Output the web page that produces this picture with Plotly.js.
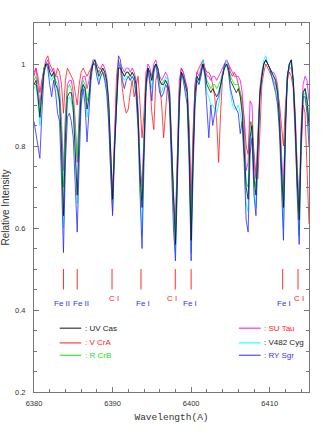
<!DOCTYPE html>
<html>
<head>
<meta charset="utf-8">
<script src="https://cdn.plot.ly/plotly-3.0.1.min.js"></script>
<style>
  html,body{margin:0;padding:0;background:#fff;}
  #chart{width:327px;height:436px;}
</style>
</head>
<body>
<div id="chart"></div>
<script>
// spectra sampled every 0.25 A starting at 6380 A (fed to plotly as x0/dx)
const waveStart = 6380;
const waveStep = 0.25;

const uvCas = [
  0.95,0.96,0.92,0.87, 0.93,0.98,1.00,1.00, 0.98,0.97,0.98,0.95, 0.94,0.91,0.80,0.63,
  0.82,0.92,0.93,0.93, 0.89,0.80,0.68,0.83, 0.93,0.95,0.94,0.89, 0.92,0.98,1.00,1.01,
  0.99,0.97,0.98,0.99, 0.98,0.96,0.91,0.78, 0.67,0.80,0.91,0.99, 0.99,0.98,0.97,0.98,
  0.98,0.97,0.98,0.97, 0.95,0.87,0.73,0.65, 0.82,0.95,0.99,0.98, 0.96,0.99,1.00,0.99,
  0.96,0.95,0.95,0.96, 0.95,0.93,0.80,0.66, 0.56,0.74,0.92,0.98, 0.97,0.95,0.93,0.80,
  0.57,0.78,0.93,0.97, 0.96,0.98,1.00,0.98, 0.95,0.94,0.93,0.94, 0.93,0.92,0.93,0.95,
  0.97,0.99,1.00,0.99, 0.96,0.95,0.94,0.93, 0.94,0.92,0.88,0.80, 0.70,0.67,0.82,0.85,
  0.72,0.68,0.82,0.93, 0.97,1.00,1.01,1.00, 0.99,0.98,0.97,0.96, 0.93,0.86,0.74,0.65,
  0.85,0.97,1.00,1.01, 0.96,0.86,0.72,0.62, 0.82,0.93,0.94,0.91, 0.85
];
const vCrA = [
  0.97,0.99,0.97,0.93, 0.96,0.99,1.01,1.02, 1.00,0.99,0.98,0.97, 0.99,0.98,0.95,0.88,
  0.96,0.99,0.98,0.97, 0.96,0.93,0.90,0.95, 0.98,0.99,0.98,0.97, 0.98,0.99,1.00,1.00,
  0.99,0.98,0.99,0.98, 0.97,0.95,0.88,0.74, 0.64,0.82,0.97,1.01, 0.99,0.94,0.90,0.88,
  0.89,0.93,0.96,0.92, 0.95,0.97,0.90,0.82, 0.88,0.98,0.99,0.95, 0.88,0.84,0.96,0.98,
  0.95,0.90,0.82,0.88, 0.95,0.92,0.78,0.66, 0.61,0.80,0.96,0.99, 0.98,0.96,0.94,0.85,
  0.66,0.84,0.95,0.98, 0.99,1.00,1.01,0.99, 0.98,0.98,0.97,0.95, 0.92,0.86,0.76,0.88,
  0.97,1.00,1.01,1.00, 0.98,0.97,0.98,0.97, 0.95,0.93,0.91,0.87, 0.80,0.78,0.86,0.84,
  0.78,0.73,0.72,0.85, 0.95,0.98,1.00,0.99, 0.98,0.97,0.96,0.95, 0.93,0.90,0.85,0.80,
  0.90,0.96,0.98,0.97, 0.94,0.82,0.70,0.66, 0.80,0.90,0.88,0.75, 0.61
];
const rCrB = [
  0.96,0.97,0.93,0.88, 0.93,0.99,1.00,1.00, 0.98,0.97,0.98,0.96, 0.95,0.92,0.84,0.70,
  0.86,0.94,0.95,0.94, 0.91,0.85,0.77,0.86, 0.94,0.96,0.95,0.91, 0.93,0.98,1.00,1.01,
  0.99,0.98,0.98,0.99, 0.98,0.96,0.90,0.77, 0.66,0.80,0.91,0.99, 0.99,0.98,0.97,0.98,
  0.98,0.97,0.98,0.97, 0.95,0.87,0.74,0.67, 0.83,0.95,0.99,0.98, 0.96,0.99,1.00,0.99,
  0.96,0.95,0.96,0.96, 0.95,0.93,0.80,0.67, 0.58,0.75,0.92,0.98, 0.97,0.95,0.93,0.81,
  0.60,0.79,0.93,0.97, 0.96,0.98,1.00,0.98, 0.96,0.95,0.94,0.95, 0.95,0.94,0.95,0.96,
  0.98,0.99,1.00,0.99, 0.97,0.96,0.95,0.95, 0.95,0.93,0.89,0.81, 0.71,0.70,0.84,0.86,
  0.73,0.70,0.83,0.93, 0.97,1.00,1.01,1.00, 0.99,0.98,0.97,0.96, 0.94,0.87,0.75,0.67,
  0.86,0.97,1.00,1.00, 0.96,0.86,0.73,0.64, 0.83,0.93,0.94,0.92, 0.86
];
const suTau = [
  0.98,0.99,0.95,0.90, 0.95,0.99,1.00,1.01, 0.99,0.98,0.99,0.97, 0.97,0.94,0.86,0.74,
  0.88,0.95,0.96,0.96, 0.93,0.86,0.76,0.88, 0.95,0.97,0.97,0.94, 0.96,0.99,1.01,1.01,
  1.00,0.99,0.99,1.00, 0.99,0.97,0.91,0.78, 0.68,0.82,0.93,0.99, 1.00,0.99,0.98,0.99,
  0.99,0.98,0.99,0.98, 0.96,0.89,0.76,0.70, 0.84,0.96,1.00,0.99, 0.97,1.00,1.01,0.99,
  0.97,0.96,0.97,0.98, 0.97,0.94,0.82,0.68, 0.60,0.78,0.94,0.99, 0.98,0.96,0.94,0.83,
  0.64,0.82,0.95,0.98, 0.97,0.99,1.01,0.99, 0.97,0.97,0.96,0.97, 0.97,0.96,0.97,0.98,
  0.99,1.00,1.01,1.00, 0.99,0.98,0.97,0.97, 0.97,0.96,0.93,0.85, 0.74,0.76,0.91,0.90,
  0.76,0.72,0.84,0.94, 0.98,1.00,1.01,1.00, 0.99,0.98,0.98,0.97, 0.95,0.89,0.78,0.70,
  0.87,0.97,0.99,0.99, 0.96,0.88,0.75,0.66, 0.85,0.95,0.97,0.96, 0.91
];
const v482Cyg = [
  0.94,0.95,0.91,0.85, 0.92,0.98,1.00,1.00, 0.97,0.96,0.97,0.95, 0.93,0.90,0.78,0.60,
  0.80,0.91,0.92,0.91, 0.88,0.79,0.66,0.82, 0.92,0.95,0.93,0.87, 0.91,0.97,1.00,1.01,
  0.99,0.96,0.97,0.98, 0.97,0.95,0.89,0.76, 0.65,0.79,0.91,1.00, 1.00,0.97,0.96,0.97,
  0.97,0.96,0.97,0.96, 0.93,0.85,0.70,0.58, 0.80,0.94,0.99,0.97, 0.94,0.98,1.00,0.98,
  0.94,0.93,0.95,0.97, 0.96,0.92,0.77,0.63, 0.54,0.72,0.91,0.98, 0.97,0.94,0.92,0.77,
  0.54,0.76,0.92,0.97, 0.95,0.98,1.01,0.98, 0.93,0.92,0.90,0.90, 0.89,0.88,0.90,0.94,
  0.97,1.00,1.01,0.99, 0.93,0.90,0.89,0.89, 0.90,0.88,0.85,0.78, 0.66,0.64,0.80,0.84,
  0.70,0.65,0.81,0.93, 0.98,1.01,1.02,1.00, 0.99,0.97,0.96,0.94, 0.92,0.85,0.72,0.60,
  0.84,0.97,1.00,1.01, 0.95,0.85,0.70,0.58, 0.81,0.92,0.93,0.89, 0.83
];
const rySgr = [
  0.86,0.83,0.79,0.77, 0.88,0.97,1.00,0.99, 0.95,0.92,0.96,0.93, 0.88,0.86,0.72,0.54,
  0.76,0.87,0.88,0.86, 0.82,0.72,0.59,0.76, 0.90,0.94,0.90,0.81, 0.88,0.96,1.00,1.00,
  0.97,0.95,0.97,0.98, 0.96,0.93,0.86,0.74, 0.63,0.78,0.92,1.02, 1.01,0.96,0.94,0.96,
  0.97,0.96,0.97,0.96, 0.92,0.84,0.68,0.55, 0.76,0.93,0.99,0.96, 0.91,0.98,1.00,0.97,
  0.93,0.92,0.93,0.95, 0.94,0.90,0.74,0.60, 0.52,0.70,0.90,0.98, 0.96,0.93,0.90,0.75,
  0.52,0.74,0.90,0.96, 0.95,0.97,1.00,0.97, 0.90,0.82,0.90,0.85, 0.88,0.91,0.92,0.95,
  0.98,1.00,1.00,0.98, 0.94,0.92,0.90,0.89, 0.88,0.83,0.86,0.76, 0.62,0.59,0.78,0.82,
  0.68,0.63,0.80,0.92, 0.97,1.00,1.01,1.00, 0.99,0.97,0.95,0.93, 0.90,0.83,0.70,0.57,
  0.82,0.97,1.00,1.01, 0.95,0.84,0.68,0.56, 0.80,0.92,0.92,0.88, 0.80
];

const starNames = ['UV Cas', 'V CrA', 'R CrB', 'SU Tau', 'V482 Cyg', 'RY Sgr'];

// identified lines
const lineWave = [6383.75, 6385.5, 6389.93, 6393.62, 6397.98, 6400.0, 6411.65, 6413.6];
const lineName = ['Fe II', 'Fe II', 'C I', 'Fe I', 'C I', 'Fe I', 'Fe I', 'C I'];

const xTicks = [6380, 6390, 6400, 6410];
const yTicks = [0.2, 0.4, 0.6, 0.8, 1];

// ---- styling ----
const series = [vCrA, suTau, rCrB, v482Cyg, rySgr, uvCas];
const seriesName = ['V CrA', 'SU Tau', 'R CrB', 'V482 Cyg', 'RY Sgr', 'UV Cas'];
const colorOf = {
  'UV Cas':'#111111', 'V CrA':'#ff1a1a', 'R CrB':'#00ee00',
  'SU Tau':'#ff00ff', 'V482 Cyg':'#00ffff', 'RY Sgr':'#2a2aff'
};
const textColorOf = {
  'UV Cas':'#222222', 'V CrA':'#ff2020', 'R CrB':'#22dd22',
  'SU Tau':'#ff2020', 'V482 Cyg':'#222222', 'RY Sgr':'#3333ff'
};

const traces = series.map((ys, k) => ({
  type:'scatter', mode:'lines',
  x0:waveStart, dx:waveStep, y:ys,
  name:seriesName[k],
  line:{color:colorOf[seriesName[k]], width:0.8},
  hoverinfo:'skip', showlegend:false
}));

// red tick marks for the identified lines
const markX = [], markY = [];
lineWave.forEach(w => { markX.push(w, w, null); markY.push(0.45, 0.5, null); });
traces.push({
  type:'scatter', mode:'lines', x:markX, y:markY,
  line:{color:'#ff3030', width:1}, hoverinfo:'skip', showlegend:false
});

const labelShift = [-1, 4, 2, 1.5, -3.5, -1, 1.5, 0.5];
const annotations = lineName.map((nm, i) => {
  const isC = nm.startsWith('C');
  return {
    x:lineWave[i], y:isC ? 0.427 : 0.417, xref:'x', yref:'y',
    text:nm, showarrow:false, xshift:labelShift[i],
    font:{family:'Arial, Liberation Sans, sans-serif', size:8, color:isC ? '#ff2020' : '#3333ff'}
  };
});

// hand-made two-column legend
const shapes = [];
const legendRows = [0.173, 0.133, 0.0996];
starNames.forEach((nm, k) => {
  const col = k < 3 ? 0 : 1;
  const row = k % 3;
  const x0 = col ? 0.745 : 0.0935;
  const x1 = col ? 0.824 : 0.172;
  shapes.push({
    type:'line', xref:'paper', yref:'paper',
    x0:x0, x1:x1, y0:legendRows[row], y1:legendRows[row],
    line:{color:colorOf[nm], width:1}
  });
  annotations.push({
    xref:'paper', yref:'paper', x:x1 + 0.005, y:legendRows[row],
    xanchor:'left', yanchor:'middle', showarrow:false,
    text:': ' + nm,
    font:{family:'Arial, Liberation Sans, sans-serif', size:8, color:textColorOf[nm]}
  });
});

const axisCommon = {
  showgrid:false, zeroline:false,
  showline:true, linecolor:'#777', linewidth:1, mirror:'allticks',
  ticks:'inside', ticklen:5, tickcolor:'#777', tickwidth:1,
  tickfont:{family:'Arial, Liberation Sans, sans-serif', size:7.5, color:'#333'}
};

const layout = {
  width:327, height:436,
  margin:{l:34, r:18, t:23, b:44},
  paper_bgcolor:'#fff', plot_bgcolor:'#fff',
  showlegend:false,
  xaxis:Object.assign({}, axisCommon, {
    range:[6380, 6415], tickvals:xTicks, ticktext:xTicks.map(String),
    minor:{dtick:2, tick0:6380, ticks:'inside', ticklen:3, tickcolor:'#777'},
    ticklabelstandoff:4,
    title:{text:'Wavelength(A)', standoff:6,
      font:{family:'Courier New, Liberation Mono, monospace', size:9.5, color:'#333'}}
  }),
  yaxis:Object.assign({}, axisCommon, {
    range:[0.2, 1.1], tickvals:yTicks, ticktext:['0.2','0.4','0.6','0.8','1'],
    minor:{dtick:0.05, tick0:0.2, ticks:'inside', ticklen:3, tickcolor:'#777'},
    ticklabelstandoff:6,
    title:{text:'Relative Intensity', standoff:6,
      font:{family:'Arial, Liberation Sans, sans-serif', size:10, color:'#333'}}
  }),
  shapes:shapes,
  annotations:annotations
};

Plotly.newPlot('chart', traces, layout, {displayModeBar:false, staticPlot:true});
</script>
</body>
</html>
